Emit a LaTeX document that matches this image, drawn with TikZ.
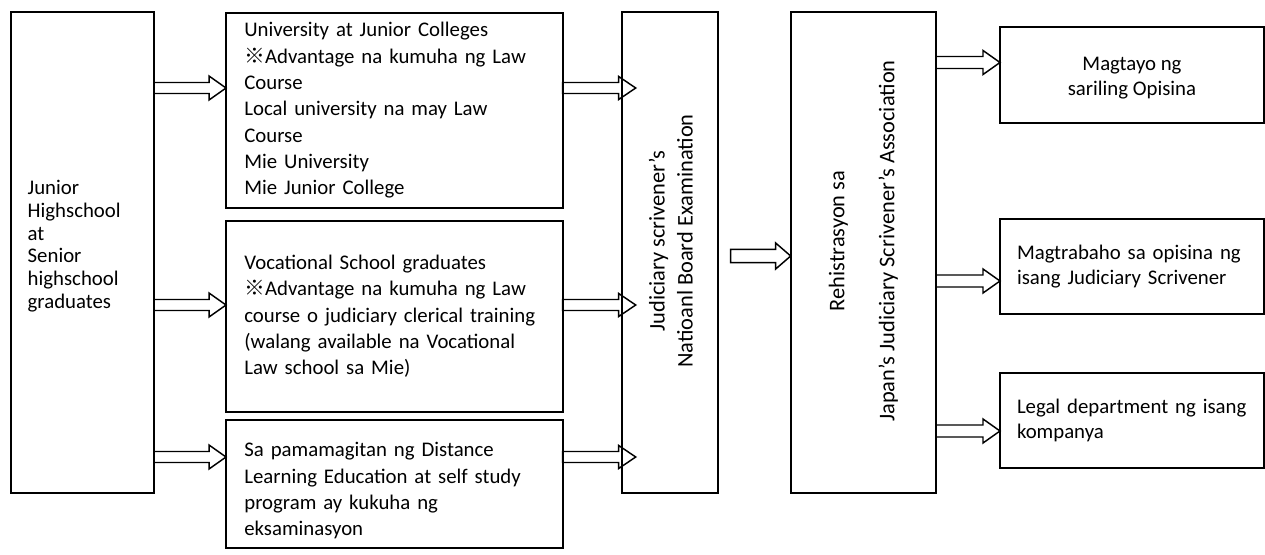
\documentclass[tikz,border=0pt]{standalone}
\usepackage{fontspec}
\setmainfont{Carlito}
\newfontfamily\cjkfont{Noto Sans CJK JP}
\usetikzlibrary{calc}
\newcommand\refmark{{\cjkfont ※}}
% #1 from anchor, #2 to anchor, #3 y (px), #4 start offset, #5 tip offset, #6 shaft half, #7 head half, #8 head length (all px)
\newcommand\blockarrow[8]{%
  \draw[blockarr] let \p1=(#1), \p2=(#2), \p3=(0,#3) in
   (\x1+#4*0.75pt,\y3+#6*0.75pt) -- (\x2+#5*0.75pt-#8*0.75pt,\y3+#6*0.75pt)
   -- (\x2+#5*0.75pt-#8*0.75pt,\y3+#7*0.75pt) -- (\x2+#5*0.75pt,\y3)
   -- (\x2+#5*0.75pt-#8*0.75pt,\y3-#7*0.75pt) -- (\x2+#5*0.75pt-#8*0.75pt,\y3-#6*0.75pt)
   -- (\x1+#4*0.75pt,\y3-#6*0.75pt) -- cycle;}
\begin{document}
\begin{tikzpicture}[x=0.75pt,y=-0.75pt,
  box/.style={draw, line width=1.5pt, rectangle, outer sep=0pt, inner sep=0pt},
  blockarr/.style={draw, line width=1.1pt, line join=miter},
  midtext/.style={align=left, text width=225pt, inner sep=0pt, font=\fontsize{15.6pt}{19.75pt}\selectfont},
  righttext/.style={font=\fontsize{15.6pt}{19.1pt}\selectfont}]
\fill[white] (0,0) rectangle (1265,554);
\useasboundingbox (0,0) rectangle (1265,554);

\node[box, minimum width=107.5pt, minimum height=360.2pt] (left) at (82.35,252.4) {};
\node[text width=82pt, align=left, inner sep=0pt,
      font=\fontsize{15.6pt}{17pt}\selectfont] (lefttext) at (82.35,246)
  {Junior\\Highschool\\at\\Senior\\highschool\\graduates};

\node[box, midtext, minimum width=252.5pt, minimum height=145.8pt] (mid1) at (394.35,110.5)
  {University at Junior Colleges\\\refmark Advantage na kumuha ng Law\\Course\\Local university na may Law\\Course\\Mie University\\Mie Junior College};
\node[box, midtext, minimum width=252.5pt, minimum height=143.7pt] (mid2) at (394.35,316.5)
  {Vocational School graduates\\\refmark Advantage na kumuha ng Law\\course o judiciary clerical training\\(walang available na Vocational\\Law school sa Mie)};
\node[box, minimum width=252.5pt, minimum height=96pt] (mid3) at (394.35,484) {};
\node[midtext] (mid3text) at (394.35,491)
  {Sa pamamagitan ng Distance\\Learning Education at self study\\program ay kukuha ng\\eksaminasyon};

\node[box, minimum width=72pt, minimum height=360.2pt] (exam) at (669.7,252.4) {};
\node[rotate=90, align=center, font=\fontsize{16.8pt}{21pt}\selectfont] (examtext) at (670.9,241)
  {Judiciary scrivener’s\\Natioanl Board Examination};

\node[box, minimum width=109pt, minimum height=360.2pt] (reg) at (863.35,252.4) {};
\node[rotate=90, align=center, font=\fontsize{16.8pt}{18.75pt}\selectfont] (regtext) at (863.35,241)
  {Rehistrasyon sa\\[18.75pt]Japan’s Judiciary Scrivener’s Association};

\node[box, minimum width=198pt, minimum height=71.55pt] (r1) at (1132,75) {};
\node[righttext, align=center] (r1text) at (1132,78)
  {Magtayo ng\\sariling Opisina};
\node[box, righttext, align=left, text width=172.5pt, minimum width=198pt, minimum height=71pt] (r2) at (1132,266.7)
  {\mbox{Magtrabaho sa opisina ng}\\\mbox{isang Judiciary Scrivener}};
\node[box, righttext, align=left, text width=172.5pt, minimum width=198pt, minimum height=71.7pt] (r3) at (1132,420.5)
  {\mbox{Legal department ng isang}\\kompanya};

\blockarrow{left.east}{mid1.west}{88}{0}{0}{5.5}{12}{17}
\blockarrow{left.east}{mid2.west}{305}{0}{0}{5.5}{12}{17}
\blockarrow{left.east}{mid3.west}{457}{0}{0}{5.5}{12}{17}

\blockarrow{mid1.east}{exam.west}{88}{0}{14}{5.5}{11.5}{17}
\blockarrow{mid2.east}{exam.west}{305}{0}{14}{5.5}{11.5}{17}
\blockarrow{mid3.east}{exam.west}{457}{0}{14}{5.5}{11.5}{17}

\blockarrow{exam.east}{reg.west}{256}{13}{0}{6.7}{13}{15}

\blockarrow{reg.east}{r1.west}{62.5}{0}{0}{6}{12}{17}
\blockarrow{reg.east}{r2.west}{281}{0}{0}{6}{12}{17}
\blockarrow{reg.east}{r3.west}{431}{0}{0}{6}{12}{17}
\end{tikzpicture}
\end{document}
